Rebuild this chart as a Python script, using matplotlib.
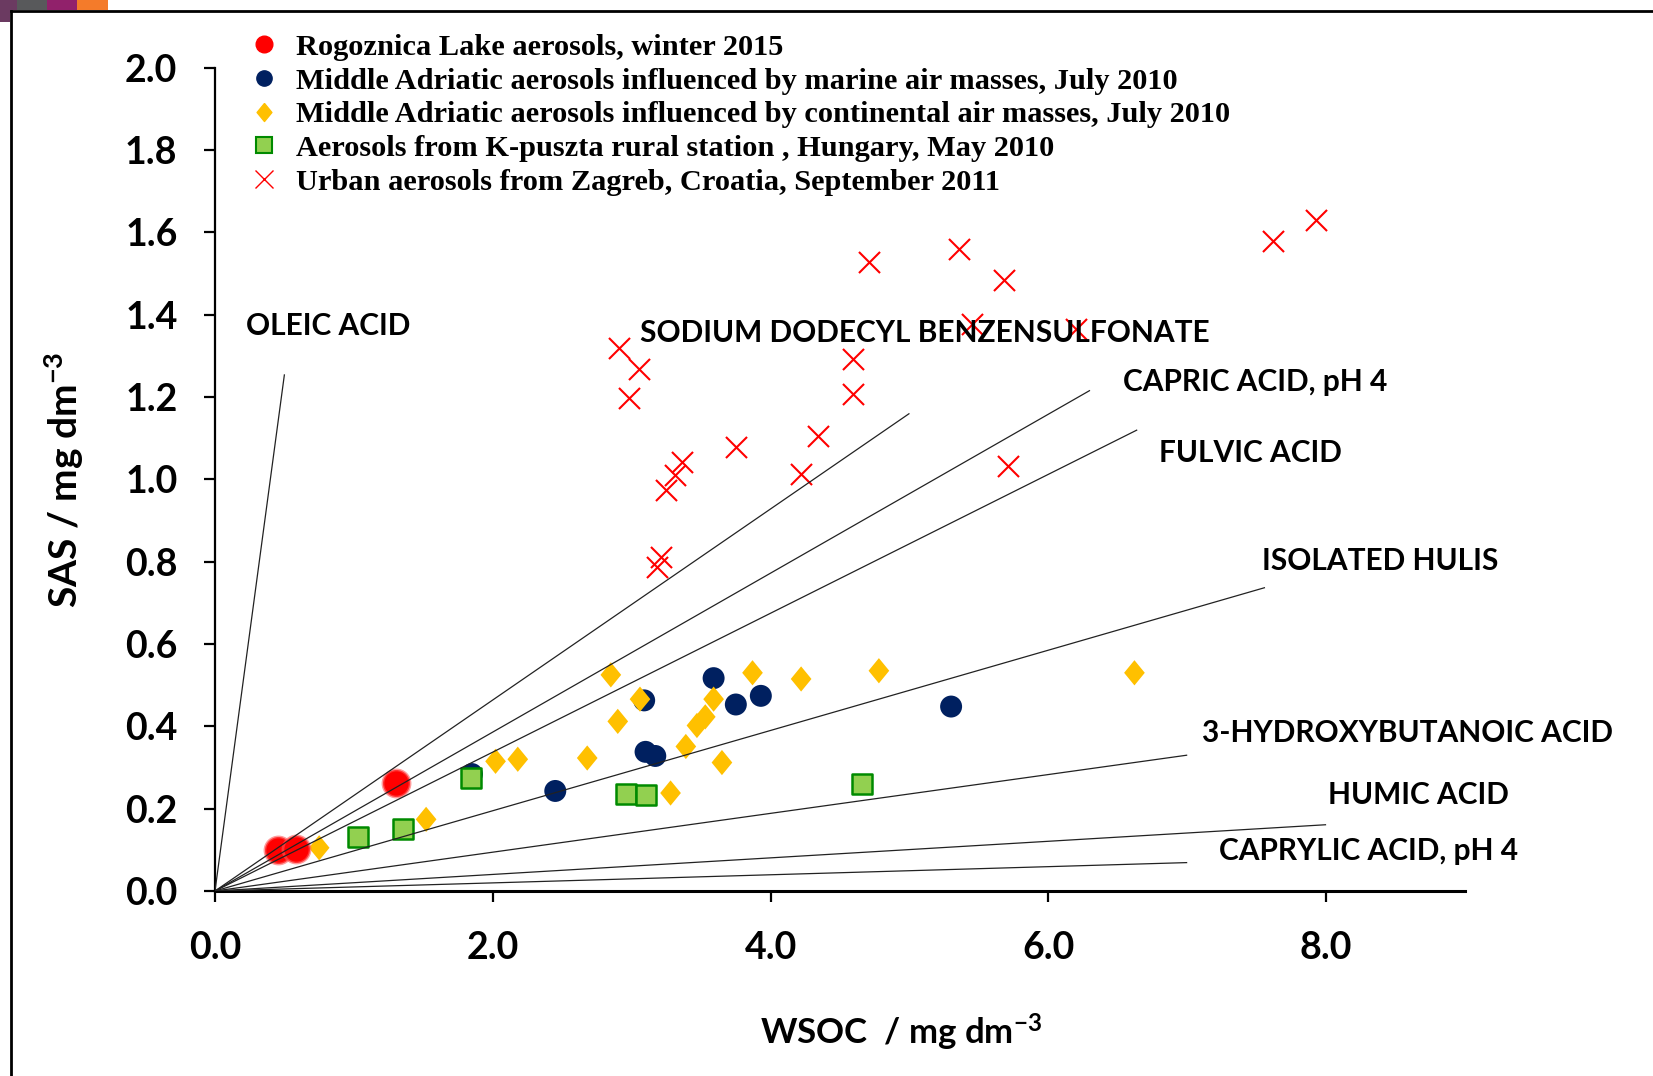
import matplotlib
matplotlib.use("Agg")
import matplotlib.pyplot as plt
from matplotlib.lines import Line2D
from matplotlib.patches import Rectangle

# ---- data -------------------------------------------------------------
rogoznica_wsoc = [0.45, 0.58, 1.30]
rogoznica_sas = [0.100, 0.102, 0.263]

marine_wsoc = [1.85, 2.45, 3.09, 3.10, 3.17, 3.59, 3.75, 3.93, 5.30]
marine_sas = [0.284, 0.243, 0.463, 0.338, 0.328, 0.517, 0.453, 0.474, 0.448]

continental_wsoc = [0.75, 1.52, 2.02, 2.18, 2.68, 2.85, 2.90, 3.06, 3.28,
                    3.39, 3.47, 3.53, 3.59, 3.65, 3.87, 4.22, 4.78, 6.62]
continental_sas = [0.105, 0.174, 0.315, 0.320, 0.323, 0.525, 0.412, 0.466, 0.238,
                   0.351, 0.402, 0.423, 0.466, 0.312, 0.530, 0.515, 0.535, 0.530]

kpuszta_wsoc = [1.03, 1.35, 1.84, 2.96, 3.10, 4.66]
kpuszta_sas = [0.131, 0.151, 0.274, 0.236, 0.233, 0.261]

zagreb_wsoc = [2.91, 3.05, 2.98, 3.21, 3.18, 3.25, 3.31, 3.36, 3.75, 4.22, 4.34,
               4.59, 4.59, 4.71, 5.36, 5.45, 5.68, 5.71, 6.20, 7.62, 7.93]
zagreb_sas = [1.319, 1.268, 1.198, 0.812, 0.786, 0.973, 1.011, 1.042, 1.078, 1.014, 1.106,
              1.293, 1.206, 1.529, 1.560, 1.378, 1.483, 1.032, 1.365, 1.580, 1.629]

# calibration lines of model surfactants (from origin to end point)
ref_names = ["OLEIC ACID", "SODIUM DODECYL BENZENSULFONATE", "CAPRIC ACID, pH 4",
             "FULVIC ACID", "ISOLATED HULIS", "3-HYDROXYBUTANOIC ACID",
             "HUMIC ACID", "CAPRYLIC ACID, pH 4"]
ref_end_wsoc = [0.50, 5.00, 6.30, 6.64, 7.56, 7.00, 8.00, 7.00]
ref_end_sas = [1.255, 1.160, 1.216, 1.120, 0.737, 0.330, 0.161, 0.069]
ref_label_x = [0.22, 3.06, 6.54, 6.80, 7.54, 7.11, 8.01, 7.23]
ref_label_y = [1.372, 1.355, 1.237, 1.063, 0.801, 0.384, 0.233, 0.097]

legend_labels = ["Rogoznica Lake aerosols, winter 2015",
                 "Middle Adriatic aerosols influenced by marine air masses, July 2010",
                 "Middle Adriatic aerosols influenced by continental air masses, July 2010",
                 "Aerosols from K-puszta rural station , Hungary, May 2010",
                 "Urban aerosols from Zagreb, Croatia, September 2011"]

x_ticks = [0.0, 2.0, 4.0, 6.0, 8.0]
y_ticks = [0.0, 0.2, 0.4, 0.6, 0.8, 1.0, 1.2, 1.4, 1.6, 1.8, 2.0]

# ---- style ------------------------------------------------------------
SANS = "Lato"
SERIF = "Liberation Serif"
plt.rcParams["font.family"] = [SANS, "DejaVu Sans"]
plt.rcParams["font.weight"] = "bold"
plt.rcParams["mathtext.fontset"] = "custom"
plt.rcParams["mathtext.rm"] = "Lato:bold"
plt.rcParams["mathtext.default"] = "rm"

RED = "#FF0000"
NAVY = "#002060"
GOLD = "#FFC000"
LGREEN = "#92D050"
DGREEN = "#008A00"

W, H = 1653, 1076
fig = plt.figure(figsize=(W / 100, H / 100), dpi=100)
ax = fig.add_axes([215 / W, (H - 891) / H, 1250 / W, 823.4 / H])

# ---- points -----------------------------------------------------------
diamond = [(0, 1), (0.82, 0), (0, -1), (-0.82, 0), (0, 1)]
ax.scatter(marine_wsoc, marine_sas, marker="o", s=250, c=NAVY, edgecolors="none", zorder=3)
ax.scatter(continental_wsoc, continental_sas, marker=diamond, s=330, c=GOLD,
           edgecolors="none", zorder=3)
ax.scatter(kpuszta_wsoc, kpuszta_sas, marker="s", s=225, c=LGREEN, edgecolors=DGREEN,
           linewidths=1.8, zorder=3)
ax.scatter(zagreb_wsoc, zagreb_sas, marker="x", s=230, c=RED, linewidths=1.5, zorder=3)
ax.scatter(rogoznica_wsoc, rogoznica_sas, marker="o", s=380, c=RED,
           edgecolors=(1, 0.35, 0.35, 0.6), linewidths=2, zorder=3)

# ---- reference lines and their names ----------------------------------
for xe, ye, lx, ly, name in zip(ref_end_wsoc, ref_end_sas, ref_label_x, ref_label_y, ref_names):
    ax.plot([0, xe], [0, ye], color="#222222", lw=0.9, zorder=4, solid_capstyle="butt")
    ax.text(lx, ly, name, fontsize=21.5, fontweight="bold", ha="left", va="center",
            family=[SANS, "DejaVu Sans"], zorder=5, clip_on=False)

# ---- axes -------------------------------------------------------------
ax.set_xlim(0, 9)
ax.set_ylim(0, 2.0)
ax.set_xticks(x_ticks)
ax.set_yticks(y_ticks)
ax.set_xticklabels([f"{v:.1f}" for v in x_ticks])
ax.set_yticklabels([f"{v:.1f}" for v in y_ticks])
for side in ("top", "right"):
    ax.spines[side].set_visible(False)
ax.spines["left"].set_linewidth(1.6)
ax.spines["bottom"].set_linewidth(2.2)
ax.tick_params(axis="both", direction="out", length=8, width=1.6, labelsize=27, colors="black")
ax.tick_params(axis="x", pad=20.5)
ax.tick_params(axis="y", pad=19)
for lab in ax.get_xticklabels() + ax.get_yticklabels():
    lab.set_fontweight("bold")

ax.set_ylabel("SAS / mg dm$^{-3}$", fontsize=28, fontweight="bold")
ax.yaxis.set_label_coords(-0.103, 0.5)
ax.set_xlabel("WSOC  / mg dm$^{-3}$", fontsize=25, fontweight="bold", va="center")
ax.xaxis.set_label_coords(4.94 / 9, -0.172)

# ---- legend -----------------------------------------------------------
handles = [
    Line2D([], [], ls="none", marker="o", ms=12, mfc=RED, mec=RED),
    Line2D([], [], ls="none", marker="o", ms=11, mfc=NAVY, mec=NAVY),
    Line2D([], [], ls="none", marker=diamond, ms=13, mfc=GOLD, mec=GOLD),
    Line2D([], [], ls="none", marker="s", ms=11, mfc=LGREEN, mec=DGREEN, mew=1.5),
    Line2D([], [], ls="none", marker="x", ms=13, mec=RED, mew=1.0),
]
leg = ax.legend(handles, legend_labels, loc="upper left",
                bbox_to_anchor=(250 / W, 1 - 33.5 / H), bbox_transform=fig.transFigure,
                frameon=False, handlelength=0.9, handletextpad=0.6, labelspacing=0.212,
                borderpad=0, borderaxespad=0,
                prop={"family": SERIF, "weight": "bold", "size": 21.9})

# ---- page frame and corner decoration ---------------------------------
fig.add_artist(Line2D([11 / W, 11 / W], [0, 1 - 11 / H], transform=fig.transFigure,
                      color="black", lw=2.0))
fig.add_artist(Line2D([11 / W, 1], [1 - 11 / H, 1 - 11 / H], transform=fig.transFigure,
                      color="black", lw=2.0))
blocks = [(0, 17, 10, "#6B3A61"), (17, 47, 10, "#58595B"), (47, 77, 10, "#91216B"),
          (77, 108, 10, "#F47B2A"), (0, 10, 22, "#6B3A61")]
for x0, x1, hh, col in blocks:
    fig.add_artist(Rectangle((x0 / W, 1 - hh / H), (x1 - x0) / W, hh / H,
                             transform=fig.transFigure, color=col, lw=0))

fig.savefig("out.png", dpi=100, facecolor="white")
